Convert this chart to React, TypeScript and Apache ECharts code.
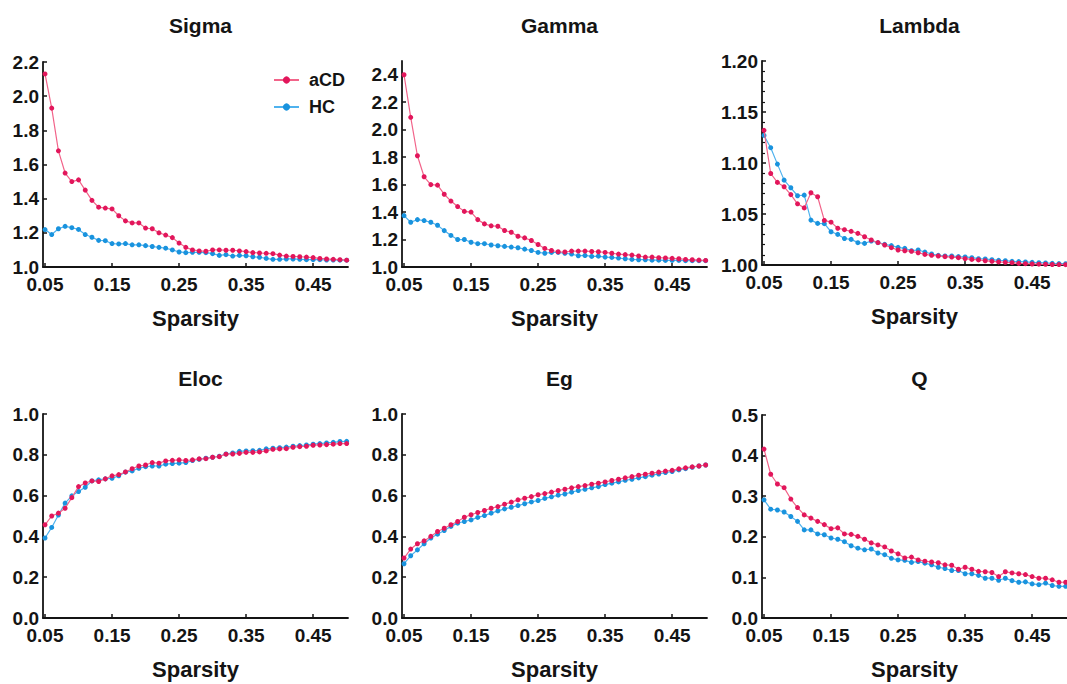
import React, { useEffect, useRef } from "react";
import * as echarts from "echarts";

const sparsity = [0.05,0.06,0.07,0.08,0.09,0.10,0.11,0.12,0.13,0.14,0.15,0.16,0.17,0.18,0.19,0.20,0.21,0.22,0.23,0.24,0.25,0.26,0.27,0.28,0.29,0.30,0.31,0.32,0.33,0.34,0.35,0.36,0.37,0.38,0.39,0.40,0.41,0.42,0.43,0.44,0.45,0.46,0.47,0.48,0.49,0.50];
const xTicks = [0.05, 0.15, 0.25, 0.35, 0.45];

const sigmaACD = [2.13,1.93,1.68,1.55,1.50,1.51,1.45,1.39,1.35,1.345,1.34,1.30,1.27,1.258,1.258,1.228,1.224,1.20,1.187,1.172,1.14,1.115,1.10,1.094,1.092,1.10,1.10,1.098,1.098,1.094,1.09,1.084,1.082,1.08,1.078,1.07,1.064,1.062,1.06,1.058,1.055,1.05,1.047,1.045,1.043,1.04];
const sigmaHC = [1.219,1.19,1.224,1.238,1.23,1.22,1.19,1.174,1.156,1.154,1.137,1.135,1.137,1.13,1.13,1.125,1.12,1.115,1.11,1.10,1.088,1.084,1.086,1.086,1.084,1.078,1.068,1.072,1.064,1.068,1.066,1.06,1.057,1.05,1.045,1.045,1.047,1.047,1.045,1.043,1.043,1.043,1.041,1.041,1.04,1.04];

const gammaACD = [2.40,2.09,1.81,1.657,1.60,1.596,1.53,1.48,1.44,1.405,1.40,1.345,1.314,1.30,1.297,1.266,1.253,1.224,1.212,1.193,1.164,1.135,1.12,1.111,1.109,1.116,1.116,1.116,1.113,1.111,1.106,1.10,1.094,1.09,1.087,1.08,1.072,1.072,1.068,1.066,1.063,1.06,1.055,1.053,1.05,1.048];
const gammaHC = [1.374,1.326,1.345,1.338,1.326,1.304,1.265,1.23,1.20,1.20,1.18,1.17,1.17,1.16,1.155,1.15,1.145,1.14,1.13,1.12,1.106,1.10,1.106,1.106,1.10,1.094,1.082,1.084,1.077,1.079,1.072,1.07,1.065,1.06,1.055,1.053,1.053,1.05,1.05,1.048,1.048,1.048,1.046,1.046,1.046,1.046];

const lambdaACD = [1.132,1.0897,1.081,1.0767,1.069,1.060,1.056,1.0708,1.0669,1.0437,1.042,1.036,1.0346,1.033,1.031,1.0277,1.0245,1.022,1.0196,1.017,1.0147,1.014,1.0134,1.012,1.0104,1.0095,1.0088,1.0082,1.0078,1.0072,1.0062,1.0055,1.005,1.0042,1.0036,1.003,1.0026,1.0023,1.0016,1.0013,1.001,1.0008,1.0007,1.0005,1.0004,1.0003];
const lambdaHC = [1.127,1.115,1.0989,1.0832,1.0757,1.0679,1.0685,1.044,1.0408,1.0405,1.0326,1.030,1.026,1.0251,1.0219,1.0212,1.0235,1.0219,1.0202,1.019,1.0173,1.0163,1.014,1.0147,1.0127,1.0108,1.0095,1.0088,1.0088,1.0082,1.0079,1.0072,1.0062,1.0059,1.0052,1.0046,1.0042,1.0036,1.0033,1.003,1.0026,1.0023,1.002,1.0016,1.0014,1.0013];

const elocACD = [0.457,0.50,0.514,0.538,0.59,0.644,0.662,0.672,0.669,0.682,0.697,0.703,0.716,0.732,0.745,0.75,0.762,0.759,0.77,0.773,0.775,0.772,0.775,0.78,0.781,0.788,0.791,0.803,0.804,0.807,0.812,0.812,0.814,0.819,0.827,0.829,0.83,0.837,0.84,0.842,0.847,0.848,0.85,0.852,0.855,0.855];
const elocHC = [0.392,0.444,0.505,0.563,0.599,0.62,0.641,0.672,0.677,0.682,0.685,0.697,0.715,0.721,0.734,0.742,0.745,0.745,0.754,0.757,0.759,0.762,0.772,0.778,0.783,0.788,0.793,0.804,0.809,0.817,0.819,0.82,0.822,0.829,0.832,0.835,0.838,0.842,0.845,0.848,0.852,0.855,0.858,0.861,0.865,0.866];

const egACD = [0.294,0.338,0.364,0.378,0.40,0.424,0.44,0.457,0.473,0.494,0.506,0.517,0.527,0.538,0.546,0.558,0.568,0.579,0.587,0.595,0.604,0.61,0.617,0.625,0.631,0.638,0.644,0.649,0.656,0.661,0.667,0.674,0.68,0.687,0.693,0.70,0.705,0.71,0.715,0.72,0.724,0.731,0.736,0.741,0.745,0.75];
const egHC = [0.266,0.305,0.334,0.364,0.392,0.411,0.429,0.449,0.465,0.473,0.481,0.493,0.502,0.514,0.525,0.535,0.543,0.551,0.56,0.569,0.576,0.586,0.594,0.602,0.608,0.617,0.625,0.631,0.638,0.644,0.654,0.661,0.667,0.675,0.68,0.687,0.693,0.70,0.706,0.713,0.718,0.726,0.732,0.739,0.745,0.75];

const qACD = [0.416,0.354,0.33,0.321,0.293,0.272,0.254,0.246,0.238,0.23,0.22,0.222,0.207,0.206,0.201,0.194,0.185,0.18,0.175,0.165,0.158,0.148,0.15,0.143,0.14,0.138,0.136,0.131,0.13,0.12,0.125,0.12,0.115,0.114,0.112,0.102,0.114,0.111,0.109,0.107,0.102,0.098,0.098,0.094,0.088,0.088];
const qHC = [0.291,0.268,0.266,0.261,0.25,0.238,0.217,0.217,0.207,0.205,0.197,0.194,0.188,0.178,0.172,0.168,0.17,0.16,0.156,0.147,0.143,0.142,0.137,0.139,0.135,0.131,0.125,0.122,0.117,0.117,0.109,0.109,0.105,0.098,0.098,0.093,0.098,0.092,0.088,0.089,0.084,0.082,0.086,0.08,0.078,0.078];

const titles = ["Sigma", "Gamma", "Lambda", "Eloc", "Eg", "Q"];
const seriesNames = ["aCD", "HC"];

const RED = "#e2165b";
const RED_LINE = "#f2648a";
const BLUE = "#1993de";
const BLUE_LINE = "#4fb2ee";
const FONT = "'Liberation Sans', Arial, sans-serif";
const INK = "#141414";

export default function App() {
  const ref = useRef<HTMLDivElement>(null);
  useEffect(() => {
    if (!ref.current) return;
    const chart = echarts.init(ref.current, null, { renderer: "svg" });

    const panels = [
      { grid: { left: 43, top: 62, width: 305, height: 205 }, y: { min: 1, max: 2.2, interval: 0.2, dec: 1 }, data: [sigmaACD, sigmaHC] },
      { grid: { left: 402, top: 61, width: 305, height: 206 }, y: { min: 1, max: 2.5, interval: 0.2, dec: 1, hideMax: true }, data: [gammaACD, gammaHC] },
      { grid: { left: 762, top: 61, width: 305, height: 204 }, y: { min: 1, max: 1.2, interval: 0.05, dec: 2, minor: true }, data: [lambdaACD, lambdaHC] },
      { grid: { left: 43, top: 414, width: 305, height: 204 }, y: { min: 0, max: 1, interval: 0.2, dec: 1 }, data: [elocACD, elocHC] },
      { grid: { left: 402, top: 414, width: 305, height: 204 }, y: { min: 0, max: 1, interval: 0.2, dec: 1 }, data: [egACD, egHC] },
      { grid: { left: 762, top: 415, width: 305, height: 203 }, y: { min: 0, max: 0.5, interval: 0.1, dec: 1 }, data: [qACD, qHC] },
    ];

    const axisLine = { show: true, lineStyle: { color: INK, width: 1.8 } };
    const labelStyle = { color: INK, fontFamily: FONT, fontWeight: "bold" as const, fontSize: 19 };

    const option: any = {
      animation: false,
      backgroundColor: "#ffffff",
      title: panels.map((p, i) => ({
        text: titles[i],
        left: p.grid.left + p.grid.width / 2,
        top: i < 3 ? 10 : 363,
        textAlign: "center",
        textStyle: { fontFamily: FONT, fontWeight: "bold", fontSize: 21, color: INK },
      })),
      legend: {
        data: seriesNames,
        orient: "vertical",
        left: 268,
        top: 66,
        itemWidth: 25,
        itemHeight: 9,
        itemGap: 9,
        textStyle: { fontFamily: FONT, fontWeight: "bold", fontSize: 18, color: INK, padding: [0, 0, 0, 5], lineHeight: 18 },
      },
      grid: panels.map((p) => ({ ...p.grid, containLabel: false })),
      xAxis: panels.map((p, i) => ({
        type: "value",
        gridIndex: i,
        min: 0.047,
        max: 0.502,
        name: "Sparsity",
        nameLocation: "middle",
        nameGap: 40,
        nameTextStyle: { fontFamily: FONT, fontWeight: "bold", fontSize: 22, color: INK },
        axisLine,
        axisTick: { show: true, inside: true, length: 4, lineStyle: { color: INK, width: 1.5 }, customValues: xTicks },
        axisLabel: { ...labelStyle, margin: 8, customValues: xTicks, formatter: (v: number) => v.toFixed(2) },
        splitLine: { show: false },
      })),
      yAxis: panels.map((p, i) => ({
        type: "value",
        gridIndex: i,
        min: p.y.min,
        max: p.y.max,
        interval: p.y.interval,
        axisLine,
        axisTick: { show: true, inside: true, length: 4, lineStyle: { color: INK, width: 1.5 } },
        minorTick: p.y.minor ? { show: true, splitNumber: 5, length: 3, lineStyle: { color: INK, width: 1.2 } } : { show: false },
        axisLabel: { ...labelStyle, margin: 4, showMaxLabel: !p.y.hideMax, formatter: (v: number) => v.toFixed(p.y.dec) },
        splitLine: { show: false },
      })),
      series: panels.flatMap((p, i) =>
        p.data.map((vals, k) => ({
          name: seriesNames[k],
          type: "line",
          xAxisIndex: i,
          yAxisIndex: i,
          data: sparsity.map((x, j) => [x, vals[j]]),
          symbol: "circle",
          symbolSize: 5,
          z: k === 0 ? 3 : 2,
          itemStyle: { color: k === 0 ? RED : BLUE },
          lineStyle: { color: k === 0 ? RED_LINE : BLUE_LINE, width: 1.2 },
        }))
      ),
    };
    chart.setOption(option);
    return () => chart.dispose();
  }, []);
  return (
    <div
      ref={ref}
      style={{ position: "fixed", left: 0, top: 0, width: 1067, height: 684, background: "#fff" }}
    />
  );
}
